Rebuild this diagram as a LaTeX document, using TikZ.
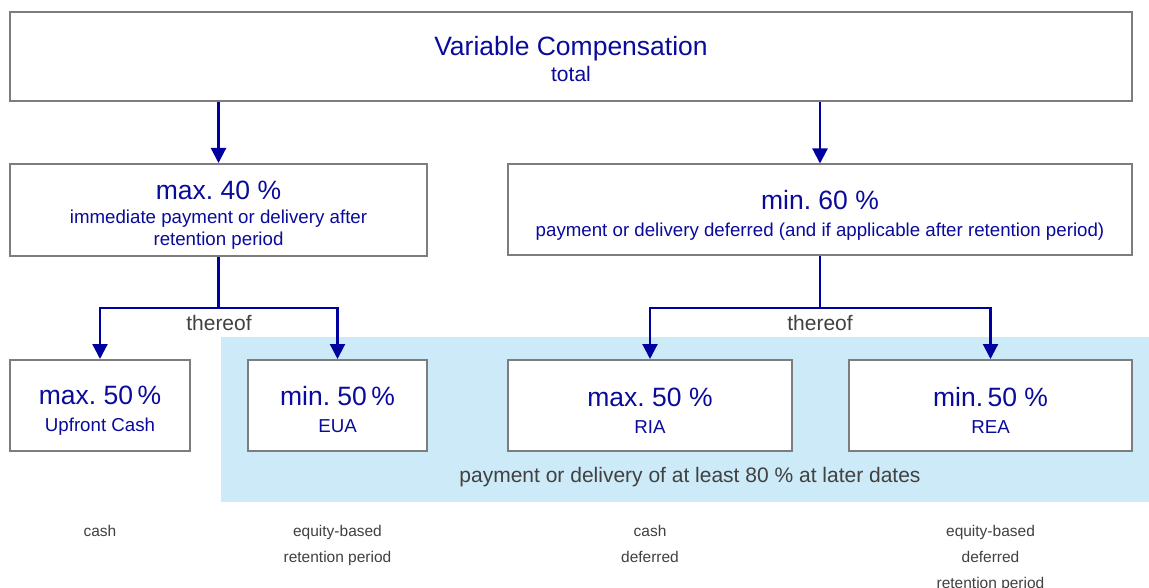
\documentclass[tikz,border=0pt]{standalone}
\usepackage{fontspec}
\setmainfont{Liberation Sans}
\usepackage{tikz}
\usetikzlibrary{arrows.meta}
\frenchspacing

\begin{document}
\begin{tikzpicture}[x=1pt, y=-1pt]
    % Define colors
    \definecolor{textblue}{RGB}{10,10,155}
    \definecolor{arrowblue}{RGB}{0,0,160}
    \definecolor{bordergray}{RGB}{125,125,125}
    \definecolor{laterfill}{RGB}{204,234,247}
    \definecolor{notegray}{RGB}{65,65,65}

    % Define styles
    \tikzset{
        box/.style={draw=bordergray, line width=2pt, fill=white, align=center,
            text=textblue, inner sep=0pt, font=\fontsize{18.7}{23}\selectfont},
        link/.style={draw=arrowblue, line width=2.2pt},
        arr/.style={link, -{Triangle[width=15pt, length=15pt]}},
        note/.style={text=notegray, align=center, font=\fontsize{15.5}{26}\selectfont},
        remark/.style={text=notegray, font=\fontsize{21}{25}\selectfont},
    }
    % heading line, with a strut that pulls the lines down a little
    \newcommand{\heading}[2][28pt]{{\fontsize{26.5}{30}\selectfont\rule{0pt}{#1}#2}}

    % Canvas
    \useasboundingbox (0,0) rectangle (1149,588);
    \fill[white] (0,0) rectangle (1149,588);

    % Area paid at later dates
    \fill[laterfill] (221,337) rectangle (1149,502);
    \node[remark] (later) at (690,477)
        {payment or delivery of at least 80 \% at later dates};

    % Top level
    \node[box, minimum width=1122, minimum height=89, font=\fontsize{21}{26}\selectfont] (varcomp) at (571,56.5)
        {\heading[24pt]{Variable Compensation}\\ total};

    % Second level
    \node[box, minimum width=417, minimum height=92] (upper40) at (218.5,210)
        {\heading{max. 40 \%}\\[1pt] immediate payment or delivery after\\[-1pt] retention period};
    \node[box, minimum width=624, minimum height=91] (lower60) at (820,210)
        {\heading[29pt]{min. 60 \%}\\[4pt] payment or delivery deferred (and if applicable after retention period)};

    % Third level
    \node[box, minimum width=180, minimum height=91] (cash50) at (100,405.5)
        {\heading{max. 50\,\%}\\[4pt] Upfront Cash};
    \node[box, minimum width=179, minimum height=91] (eua50) at (337.5,405.5)
        {\heading{min. 50\,\%}\\[4pt] EUA};
    \node[box, minimum width=284, minimum height=91] (ria50) at (650,405.5)
        {\heading{max. 50 \%}\\[4pt] RIA};
    \node[box, minimum width=283, minimum height=91] (rea50) at (990.5,405.5)
        {\heading{min.\,50 \%}\\[4pt] REA};

    % Arrows from the total
    \draw[arr] (varcomp.south -| upper40.north) -- (upper40.north);
    \draw[arr] (varcomp.south -| lower60.north) -- (lower60.north);

    % Splits
    \coordinate (fork40) at (218.5,308);
    \coordinate (fork60) at (820,308);
    \draw[link] (upper40.south) -- (fork40);
    \draw[arr] (fork40) -| (cash50.north);
    \draw[arr] (fork40) -| (eua50.north);
    \draw[link] (lower60.south) -- (fork60);
    \draw[arr] (fork60) -| (ria50.north);
    \draw[arr] (fork60) -| (rea50.north);
    \node[remark] (thereof40) at (219,323) {thereof};
    \node[remark] (thereof60) at (820,323) {thereof};

    % Notes below
    \node[note, anchor=north] (notecash) at (100,522) {cash};
    \node[note, anchor=north] (noteeua) at (337.5,522) {equity-based\\ retention period};
    \node[note, anchor=north] (noteria) at (650,522) {cash\\ deferred};
    \node[note, anchor=north] (noterea) at (990.5,522) {equity-based\\ deferred\\ retention period};
\end{tikzpicture}
\end{document}
